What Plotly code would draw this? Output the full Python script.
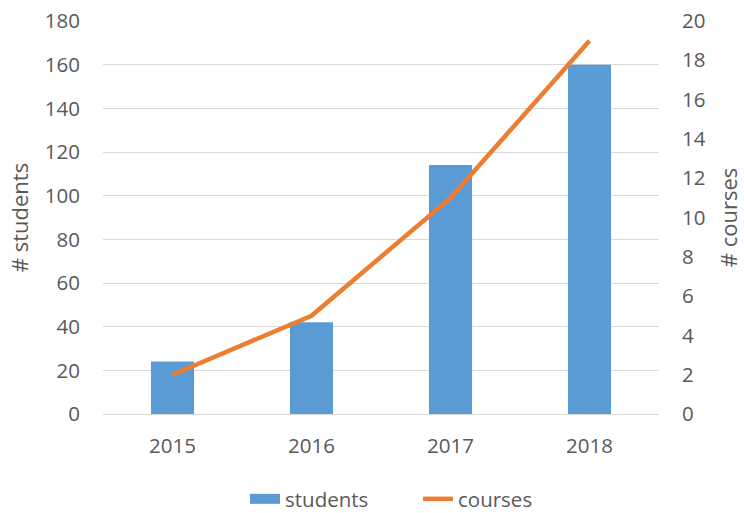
import plotly.graph_objects as go

years = ["2015", "2016", "2017", "2018"]
students = [24, 42, 114, 160]
courses = [2, 5, 11, 19]

FONT = "Open Sans"
GREY = "#595959"
BLUE = "#5B9BD5"
ORANGE = "#ED7D31"

fig = go.Figure()
fig.add_trace(go.Bar(x=years, y=students, name="students", marker_color=BLUE,
                     marker_line_width=0, yaxis="y", showlegend=False))
fig.add_trace(go.Scatter(x=years, y=courses, name="courses", mode="lines",
                         line=dict(color=ORANGE, width=4.5), yaxis="y2", showlegend=False))
# legend entries (wide rectangle for bars, line for courses)
fig.add_trace(go.Scatter(x=[None], y=[None], name="students", mode="lines",
                         line=dict(color=BLUE, width=14), yaxis="y"))
fig.add_trace(go.Scatter(x=[None], y=[None], name="courses", mode="lines",
                         line=dict(color=ORANGE, width=4.5), yaxis="y2"))

fig.update_layout(
    width=744, height=513,
    margin=dict(l=103, r=85, t=21, b=99, autoexpand=False),
    paper_bgcolor="white", plot_bgcolor="white",
    font=dict(family=FONT, color=GREY, size=20.5),
    bargap=0.69,
    showlegend=True,
    legend=dict(orientation="h", xref="container", x=245 / 744, xanchor="left",
                yref="container", y=1 - 499 / 513, yanchor="middle",
                font=dict(size=20.5, color=GREY), itemwidth=30, tracegroupgap=0,
                entrywidth=128, entrywidthmode="pixels"),
    xaxis=dict(showline=True, linecolor="#D9D9D9", linewidth=1, ticks="", automargin=False,
               tickfont=dict(size=20.5, color=GREY), ticklabelstandoff=13),
    yaxis=dict(range=[0, 180], dtick=20, showgrid=True, gridcolor="#D9D9D9", gridwidth=1.3,
               zeroline=False, automargin=False,
               tickfont=dict(size=20.5, color=GREY), ticklabelstandoff=22,
               title=dict(text="# students", font=dict(size=22, color=GREY), standoff=10)),
    yaxis2=dict(range=[0, 20], dtick=2, overlaying="y", side="right", showgrid=False,
                zeroline=False, automargin=False,
                tickfont=dict(size=20.5, color=GREY), ticklabelstandoff=22,
                title=dict(text="# courses", font=dict(size=22, color=GREY), standoff=16)),
)

fig.write_html("out.html")
